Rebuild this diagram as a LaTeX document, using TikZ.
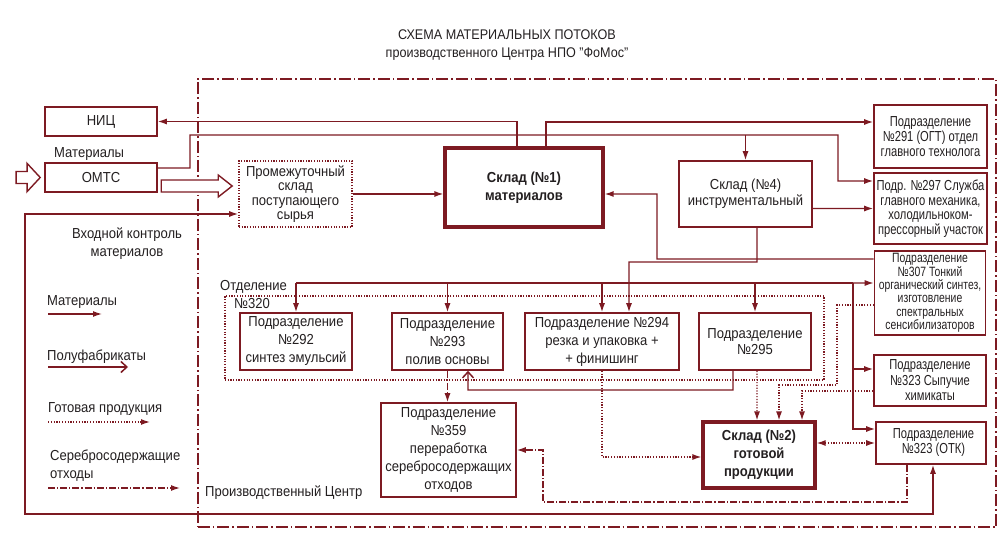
\documentclass[tikz,border=0pt]{standalone}
\usepackage{fontspec}
\setmainfont{Liberation Sans}[FakeStretch=0.9]
\newfontfamily\rcolfam{Liberation Sans}[FakeStretch=0.77]
\newfontfamily\rcolfamn{Liberation Sans}[FakeStretch=0.77]
\usetikzlibrary{arrows.meta}

\definecolor{mred}{RGB}{125,26,34}
\definecolor{ink}{RGB}{35,31,32}
\newcommand\bxfont{\fontsize{14.5bp}{18bp}\selectfont}
\newcommand\rfont{\rcolfam\fontsize{14.5bp}{14.5bp}\selectfont}
\newcommand\rnfont{\rcolfamn\fontsize{13.5bp}{13.4bp}\selectfont}

\tikzset{
  box/.style={draw=mred, line width=1.6bp, align=center, text=ink, inner sep=0pt, font=\bxfont},
  bigbox/.style={box, line width=3.2bp, font=\bxfont\bfseries},
  rbox/.style={box, font=\rfont},
  dotbox/.style={box, dash pattern=on 1.2bp off 1.5bp},
  lbl/.style={text=ink, inner sep=0pt, font=\bxfont},
  line/.style={draw=mred, line width=1.3bp},
  semi/.style={line, -{Straight Barb[length=6bp,width=11bp,line width=1.5bp]}},
  fin/.style={line, ->, dash pattern=on 1.2bp off 1.6bp},
  waste/.style={line, ->, dash pattern=on 7bp off 2bp on 1.2bp off 2bp},
  frame/.style={draw=mred, line width=1.4bp, dash pattern=on 12bp off 3bp on 1.5bp off 3bp},
  grp/.style={draw=mred, line width=1.4bp, dash pattern=on 1.2bp off 1.5bp},
  hollow/.style={draw=mred, line width=1.4bp, fill=white, line join=miter}
}

\begin{document}
\begin{tikzpicture}[x=1bp, y=-1bp, >={Latex[length=9bp,width=6bp]}]
\useasboundingbox (0,0) rectangle (1007,536);

\node[lbl, align=center, font=\fontsize{14bp}{18bp}\selectfont] (ttl) at (507,45)
  {СХЕМА МАТЕРИАЛЬНЫХ ПОТОКОВ\\производственного Центра НПО "ФоМос"};

\node[frame, minimum width=798bp, minimum height=448bp] (pc) at (597,303) {};
\node[grp, minimum width=599bp, minimum height=84bp] (otd) at (524.5,338) {};

% boxes
\node[box, minimum width=112bp, minimum height=29bp] (nic) at (101,121.5) {НИЦ};
\node[box, minimum width=112bp, minimum height=29bp] (omts) at (101,177.5) {ОМТС};
\node[dotbox, minimum width=113bp, minimum height=66bp, font=\fontsize{14.5bp}{14.5bp}\selectfont] (prom) at (295.5,194)
  {Промежуточный\\склад\\поступающего\\сырья};
\node[bigbox, minimum width=158bp, minimum height=79bp] (sklad1) at (524,187.5) {Склад (№1)\\материалов};
\node[box, minimum width=133bp, minimum height=66bp, font=\fontsize{14.5bp}{16.5bp}\selectfont] (sklad4) at (745.5,194)
  {Склад (№4)\\инструментальный};
\node[rbox, minimum width=113bp, minimum height=63bp, font=\rcolfam\fontsize{14.5bp}{15bp}\selectfont] (p291) at (930.5,136.5)
  {Подразделение\\№291 (ОГТ) отдел\\главного технолога};
\node[rbox, minimum width=113bp, minimum height=71bp] (p297) at (930.5,208.5)
  {Подр. №297 Служба\\главного механика,\\холодильноком-\\прессорный участок};
\node[rbox, minimum width=111bp, minimum height=84bp, font=\rnfont] (p307) at (930,293)
  {Подразделение\\№307 Тонкий\\органический синтез,\\изготовление\\спектральных\\сенсибилизаторов};
\node[rbox, minimum width=112bp, minimum height=51bp, font=\rcolfam\fontsize{14.5bp}{15.5bp}\selectfont] (p323s) at (930,380.5)
  {Подразделение\\№323 Сыпучие\\химикаты};
\node[rbox, minimum width=110bp, minimum height=42bp, font=\rcolfam\fontsize{14.5bp}{15bp}\selectfont] (otk) at (931,443)
  {\hspace*{5bp}Подразделение\\\hspace*{5bp}№323 (ОТК)};
\node[box, minimum width=112bp, minimum height=57bp] (p292) at (296,341.5)
  {Подразделение\\№292\\синтез эмульсий};
\node[box, minimum width=111bp, minimum height=57bp] (p293) at (447.5,341.5)
  {Подразделение\\№293\\полив основы};
\node[box, minimum width=154bp, minimum height=57bp] (p294) at (602,341.5)
  {Подразделение №294\\резка и упаковка +\\+ финишинг};
\node[box, minimum width=112bp, minimum height=57bp, font=\fontsize{14.5bp}{16.5bp}\selectfont] (p295) at (755,341.5)
  {Подразделение\\№295};
\node[box, minimum width=135bp, minimum height=94bp] (p359) at (448.5,450)
  {Подразделение\\№359\\переработка\\серебросодержащих\\отходов};
\node[bigbox, minimum width=112bp, minimum height=66bp] (sklad2) at (759,455)
  {Склад (№2)\\готовой\\продукции};

% labels
\node[lbl, anchor=west] (lblmat) at (54,154) {Материалы};
\node[lbl, align=center] (lblvk) at (127,244) {Входной контроль\\материалов};
\node[lbl, anchor=west] (lblotd) at (220,287) {Отделение};
\node[lbl, anchor=west] (lblno) at (234,304) {№320};
\node[lbl, anchor=west] (lblpc) at (205,493) {Производственный Центр};

% legend
\node[lbl, anchor=west] (lg1) at (47,302) {Материалы};
\node[lbl, anchor=west] (lg2) at (47,357) {Полуфабрикаты};
\node[lbl, anchor=west] (lg3) at (48,409) {Готовая продукция};
\node[lbl, anchor=west, align=left] (lg4) at (50,466) {Серебросодержащие\\отходы};
\coordinate (lm0) at (48,314);  \coordinate (lm1) at (102,314);
\coordinate (ls0) at (48,367);  \coordinate (ls1) at (128,367);
\coordinate (lf0) at (48,422);  \coordinate (lf1) at (150,422);
\coordinate (lw0) at (48,488);  \coordinate (lw1) at (180,488);
\draw[line,->] (lm0) -- (lm1);
\draw[semi] (ls0) -- (ls1);
\draw[fin] (lf0) -- (lf1);
\draw[waste] (lw0) -- (lw1);

% hollow arrows
\draw[hollow] ([xshift=-4bp]omts.west) -- ++(-13,-14) -- ++(0,8) -- ++(-11,0) -- ++(0,12) -- ++(11,0) -- ++(0,8) -- cycle;
\draw[hollow] ([xshift=-6bp,yshift=8bp]prom.west) -- ++(-14,-11) -- ++(0,5) -- ++(-57,0) -- ++(0,12) -- ++(57,0) -- ++(0,5) -- cycle;

% materials
\coordinate (bend) at (190,135);
\coordinate (dl) at (296,283);
\coordinate (dr) at (853,283);
\draw[line,->] ([xshift=-7bp]sklad1.north) |- (nic.east);
\draw[line,->] ([xshift=22bp]sklad1.north) |- ([yshift=14.5bp]p291.west);
\draw[line,->] ([yshift=9.5bp]omts.east) -| (bend) -| (838,181) -- ([yshift=27.5bp]p297.west);
\draw[line,->] (sklad4.north |- bend) -- (sklad4.north);
\draw[line,->] (prom.east) -- (sklad1.west |- prom.east);
\draw[line,->] ([yshift=-14.5bp]sklad4.east) -- (p297.west);
\draw[line,->] ([yshift=34bp]p307.west) -| (657,194) -- ([yshift=-6.5bp]sklad1.east);
\draw[line,->] ([xshift=11.5bp]sklad4.south) |- (629,262) -- ([xshift=27bp]p294.north);
\draw[line] (dl) -- (dr);
\draw[line,->] (dl) -- (p292.north);
\draw[line,->] (p293.north |- dl) -- (p293.north);
\draw[line,->] (p294.north |- dl) -- (p294.north);
\draw[line,->] (p295.north |- dl) -- (p295.north);
\draw[line,->] (dr) -- ([yshift=10bp]p307.west);
\draw[line,->] (dr) |- ([yshift=11.5bp]p323s.west);
\draw[line,->] (dr) |- ([yshift=14bp]otk.west);
\draw[line,<->] ([yshift=-20bp]prom.west) -| (25,514) -| ([xshift=2bp]otk.south);

% semi-finished
\draw[semi] ([xshift=-22bp]p295.south) |- (468,390) -- ([xshift=20.5bp]p293.south);

% finished goods
\draw[fin] (p294.south) |- ([yshift=-2bp]sklad2.west);
\draw[fin] ([xshift=2bp]p295.south) -- ([xshift=-2bp]sklad2.north);
\draw[fin] ([yshift=-12bp]p307.west) -| (837,385) -| ([xshift=20bp]sklad2.north);
\draw[fin] ([yshift=-10.5bp]p323s.west) -| ([xshift=43bp]sklad2.north);
\draw[fin,<->] (sklad2.east |- otk.west) -- (otk.west);

% silver waste
\draw[waste] (p293.south) -- (p293.south |- p359.north);
\draw[waste] ([xshift=-24bp]otk.south) |- (543,502) |- (p359.east);
\end{tikzpicture}
\end{document}
